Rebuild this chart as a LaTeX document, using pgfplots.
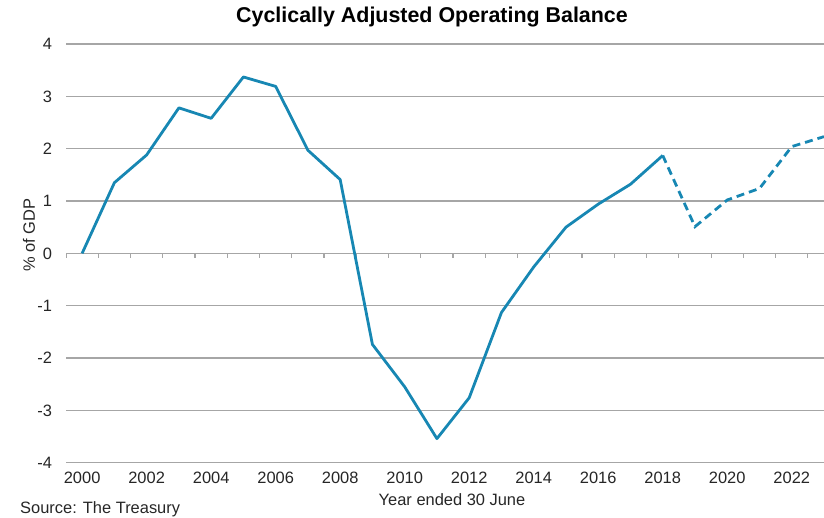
\documentclass[border=0pt]{standalone}
\usepackage{fontspec}
\setmainfont{Liberation Sans}
\usepackage{pgfplots}
\pgfplotsset{compat=1.18}
\definecolor{linecol}{HTML}{1787B3}
\definecolor{gridcol}{HTML}{A6A6A6}

\begin{document}
\begin{tikzpicture}
\useasboundingbox (0bp,0bp) rectangle (824bp,-518bp);
\begin{axis}[
  at={(66bp,-462.7bp)}, anchor=south west,
  scale only axis, width=758bp, height=418.7bp,
  xmin=1999.5, xmax=2023, ymin=-4, ymax=4,
  axis line style={draw=none}, major tick length=0pt,
  ytick={-4,-3,...,4}, ymajorgrids,
  grid style={gridcol, line width=1.4bp},
  xtick={2000,2002,...,2022},
  /pgf/number format/assume math mode=true,
  /pgf/number format/1000 sep={},
  tick label style={font=\fontsize{16.5}{19}\selectfont, text=black!85},
  yticklabel style={xshift=-10.5bp},
  xticklabel style={yshift=-6bp},
]
\addplot[gridcol, line width=1.4bp, forget plot] coordinates {(1999.5,0)(2023,0)};
\pgfplotsinvokeforeach{1999.5,2000.5,...,2022.5}{
  \draw[gridcol, line width=1.2bp] (axis cs:#1,0) -- (axis cs:#1,-0.096);
}
\addplot[linecol, line width=2.8bp, line join=round] coordinates {
  (2000,0.00) (2001,1.35) (2002,1.88) (2003,2.78) (2004,2.58)
  (2005,3.37) (2006,3.19) (2007,1.97) (2008,1.41) (2009,-1.74)
  (2010,-2.55) (2011,-3.54) (2012,-2.76) (2013,-1.13) (2014,-0.26)
  (2015,0.50) (2016,0.94) (2017,1.32) (2018,1.87)
};
\addplot[linecol, line width=2.8bp, dash pattern=on 8bp off 5bp] coordinates {
  (2018,1.87) (2019,0.51) (2020,1.02) (2021,1.24) (2022,2.04) (2023,2.23)
};
\end{axis}
\node[font=\bfseries\fontsize{21.5}{24}\selectfont] at (432bp,-17bp) {Cyclically Adjusted Operating Balance};
\node[rotate=90, font=\fontsize{16.5}{19}\selectfont, text=black!85] at (29bp,-235bp) {\% of GDP};
\node[font=\fontsize{16.5}{19}\selectfont, text=black!85, anchor=base] at (452bp,-505.5bp) {Year ended 30 June};
\node[font=\fontsize{16.5}{19}\selectfont, text=black!85, anchor=base west, inner sep=0pt] at (20bp,-513.8bp) {Source: The Treasury};
\end{tikzpicture}
\end{document}
